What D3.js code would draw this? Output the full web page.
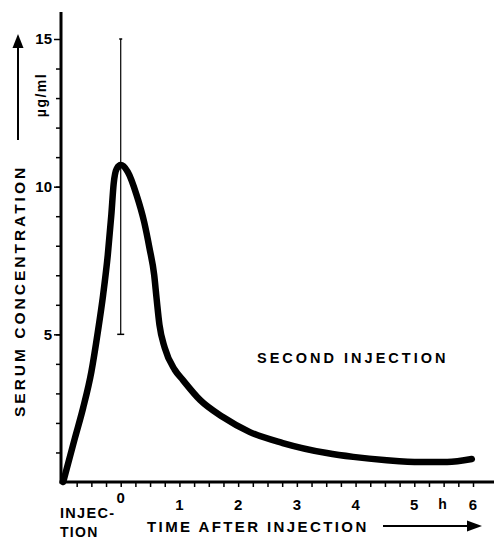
<!DOCTYPE html>
<html>
<head>
<meta charset="utf-8">
<script src="https://cdn.jsdelivr.net/npm/d3@7"></script>
<style>
body { margin: 0; background: #fff; }
text { font-family: "Liberation Sans", Arial, sans-serif; font-weight: bold; fill: #000; }
</style>
</head>
<body>
<script>
// serum concentration (µg/ml) vs time after injection (h)
var times = [-0.98, -0.78, -0.64, -0.5, -0.39, -0.3, -0.22, -0.16, -0.12, -0.07, 0, 0.12, 0.27, 0.4, 0.49, 0.57, 0.61, 0.66, 0.75, 0.92, 1.06, 1.35, 1.74, 2.2, 2.76, 3.51, 3.96, 4.53, 5.1, 5.56, 5.98];
var conc  = [0, 1.49, 2.51, 3.73, 5.08, 6.33, 7.69, 9.04, 10.1, 10.6, 10.73, 10.5, 9.72, 8.8, 7.92, 7.01, 6.23, 5.32, 4.54, 3.8, 3.45, 2.78, 2.2, 1.69, 1.32, 0.98, 0.85, 0.74, 0.68, 0.68, 0.78];
var errorBar = {t: 0, lo: 5, hi: 15};
var xTicks = [0, 1, 2, 3, 4, 5, 6];
var yTicks = [5, 10, 15];

var width = 496,
    height = 540;

var x = d3.scaleLinear().domain([-1, 6]).range([62, 473]),
    y = d3.scaleLinear().domain([0, 15]).range([482, 39]);

var svg = d3.select("body").append("svg")
    .attr("width", width)
    .attr("height", height);

// minor ticks
svg.append("g")
    .attr("transform", "translate(0,482)")
    .call(d3.axisBottom(x).tickValues(d3.range(-0.75, 6.01, 0.25)).tickSize(5).tickFormat(""))
    .call(function(g) { g.select(".domain").remove(); g.selectAll("line").attr("stroke-width", 1.5); });

svg.append("g")
    .attr("transform", "translate(61,0)")
    .call(d3.axisLeft(y).tickValues(d3.range(1, 15)).tickSize(5).tickFormat(""))
    .call(function(g) { g.select(".domain").remove(); g.selectAll("line").attr("stroke-width", 1.5); });

svg.append("g")
    .attr("transform", "translate(61,0)")
    .call(d3.axisLeft(y).tickValues(yTicks).tickSize(7).tickPadding(2))
    .call(function(g) {
        g.select(".domain").remove();
        g.selectAll("line").attr("stroke-width", 1.5);
        g.selectAll("text").attr("font-size", 15).attr("font-family", null);
    });

// x labels
svg.append("g").selectAll("text")
    .data(xTicks)
    .enter().append("text")
    .attr("x", function(d) { return x(d); })
    .attr("y", function(d) { return d === 0 ? 503 : 510; })
    .attr("text-anchor", "middle")
    .attr("font-size", 15)
    .text(function(d) { return d; });

svg.append("text")
    .attr("x", x(5.48))
    .attr("y", 509)
    .attr("text-anchor", "middle")
    .attr("font-size", 14)
    .text("h");

// axis lines
svg.append("line")
    .attr("x1", 61).attr("x2", 61)
    .attr("y1", 12).attr("y2", 483.5)
    .attr("stroke", "#000").attr("stroke-width", 3);
svg.append("line")
    .attr("x1", 59.5).attr("x2", 494)
    .attr("y1", 482).attr("y2", 482)
    .attr("stroke", "#000").attr("stroke-width", 3);

// error bar
svg.append("line")
    .attr("x1", x(errorBar.t)).attr("x2", x(errorBar.t))
    .attr("y1", y(errorBar.hi)).attr("y2", y(errorBar.lo))
    .attr("stroke", "#000").attr("stroke-width", 1.2);
svg.append("line")
    .attr("x1", x(errorBar.t) - 3.5).attr("x2", x(errorBar.t) + 3.5)
    .attr("y1", y(errorBar.lo)).attr("y2", y(errorBar.lo))
    .attr("stroke", "#000").attr("stroke-width", 1.5);
svg.append("line")
    .attr("x1", x(errorBar.t) - 1.5).attr("x2", x(errorBar.t) + 1.5)
    .attr("y1", y(errorBar.hi)).attr("y2", y(errorBar.hi))
    .attr("stroke", "#000").attr("stroke-width", 1.5);

// curve
var line = d3.line()
    .x(function(d, i) { return x(times[i]); })
    .y(function(d) { return y(d); })
    .curve(d3.curveMonotoneX);

svg.append("path")
    .attr("d", line(conc))
    .attr("fill", "none")
    .attr("stroke", "#000")
    .attr("stroke-width", 6.5)
    .attr("stroke-linecap", "round")
    .attr("stroke-linejoin", "round");

// texts
svg.append("text")
    .attr("x", 257).attr("y", 363)
    .attr("font-size", 14.5)
    .attr("letter-spacing", 3)
    .text("SECOND INJECTION");

svg.append("text")
    .attr("x", 147).attr("y", 532)
    .attr("font-size", 15)
    .attr("letter-spacing", 2.4)
    .text("TIME AFTER INJECTION");

svg.append("text")
    .attr("x", 60).attr("y", 518)
    .attr("font-size", 14.5)
    .attr("letter-spacing", 1.3)
    .text("INJEC-");
svg.append("text")
    .attr("x", 60).attr("y", 537)
    .attr("font-size", 14)
    .attr("letter-spacing", 1.3)
    .text("TION");

// x arrow
svg.append("line")
    .attr("x1", 383).attr("x2", 470)
    .attr("y1", 526).attr("y2", 526)
    .attr("stroke", "#000").attr("stroke-width", 2);
svg.append("path")
    .attr("d", "M482,526L467,520.5L467,531.5Z")
    .attr("fill", "#000");

// y titles
svg.append("text")
    .attr("transform", "translate(25,417) rotate(-90)")
    .attr("font-size", 15.5)
    .attr("letter-spacing", 3)
    .text("SERUM CONCENTRATION");

svg.append("text")
    .attr("transform", "translate(46,95) rotate(-90)")
    .attr("text-anchor", "middle")
    .attr("font-size", 14)
    .attr("letter-spacing", 1.5)
    .text("µg/ml");

svg.append("line")
    .attr("x1", 18).attr("x2", 18)
    .attr("y1", 140).attr("y2", 45)
    .attr("stroke", "#000").attr("stroke-width", 2);
svg.append("path")
    .attr("d", "M18,34L12.5,48L23.5,48Z")
    .attr("fill", "#000");
</script>
</body>
</html>
